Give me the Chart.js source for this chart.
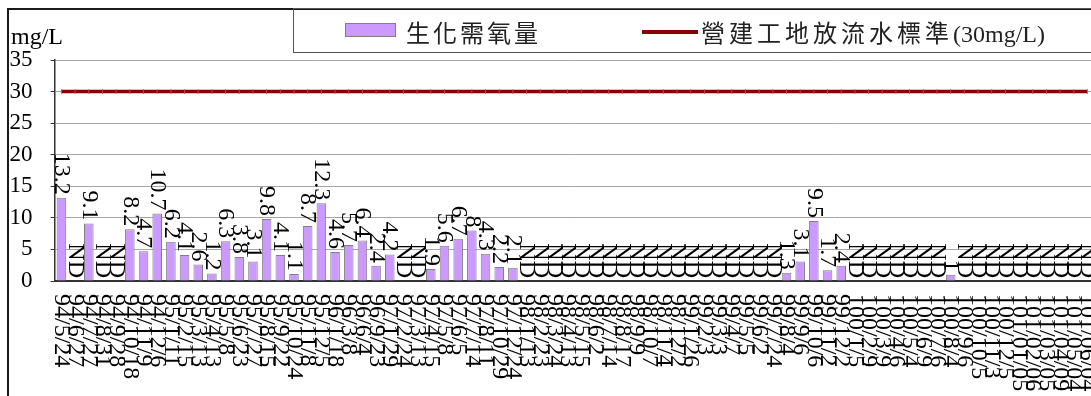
<!DOCTYPE html>
<html>
<head>
<meta charset="utf-8">
<script src="https://cdn.jsdelivr.net/npm/chart.js@4/dist/chart.umd.min.js"></script>
<style>
  body { margin: 0; overflow: hidden; background: #fff; }
  #wrap { position: relative; width: 1100px; height: 396px; overflow: hidden; }
  #theChart { position: absolute; left: 0; top: 0; }
  .frame { position: absolute; left: 7px; top: 8px; width: 1100px; height: 410px; border: 2px solid #1a1a1a; box-sizing: border-box; }
  .legendBox { position: absolute; left: 293px; top: 8px; width: 820px; height: 45px; border: 1.5px solid #555; box-sizing: border-box; }
  .swatch { position: absolute; left: 345px; top: 23px; width: 51px; height: 14px; background: #CC99FF; border: 1.5px solid #808080; box-sizing: border-box; }
  .redLine { position: absolute; left: 642px; top: 30px; width: 56px; height: 4px; background: #8B0000; }
  .cjk { position: absolute; top: 17px; font-family: "Noto Sans CJK TC", sans-serif; font-size: 24px; color: #222; line-height: 30px; white-space: nowrap; }
  .serif { font-family: "Liberation Serif", serif; letter-spacing: 0; }
  .unit { position: absolute; left: 11px; top: 22px; font-family: "Liberation Serif", serif; font-size: 24px; line-height: 28px; color: #000; }
</style>
</head>
<body>
<div id="wrap">
  <canvas id="theChart" width="1100" height="396"></canvas>
  <div class="frame"></div>
  <div class="legendBox"></div>
  <div class="swatch"></div>
  <div class="cjk" style="left:406px; letter-spacing:3px;">生化需氧量</div>
  <div class="redLine"></div>
  <div class="cjk" style="left:701px; letter-spacing:4px;">營建工地放流水標準<span class="serif">(30mg/L)</span></div>
  <div class="unit">mg/L</div>
</div>
<script>
// sampling dates (ROC calendar)
const sampleDates = [
  "94/5/24","94/6/27","94/7/27","94/8/31","94/9/28","94/10/18","94/11/9","94/12/6",
  "95/1/11","95/2/15","95/3/13","95/4/13","95/5/8","95/6/23","95/7/27","95/8/15","95/9/22","95/10/24","95/11/8","95/12/5",
  "96/1/18","96/3/8","96/6/4","96/9/23",
  "97/1/29","97/2/24","97/3/13","97/4/15","97/5/8","97/6/5","97/7/14","97/8/11","97/10/29","97/12/24",
  "98/1/13","98/2/23","98/3/24","98/4/13","98/5/15","98/6/2","98/7/14","98/8/17","98/9/9","98/10/7","98/11/4","98/12/2",
  "99/1/26","99/2/3","99/3/3","99/4/7","99/5/5","99/6/2","99/7/24","99/8/4","99/9/6","99/10/6","99/11/2","99/12/2",
  "100/1/5","100/2/9","100/3/9","100/4/6","100/5/4","100/6/9","100/7/6","100/8/4","100/9/6","100/10/5","100/11/3","100/12/5",
  "101/01/05","101/02/06","101/03/05","101/04/09","101/05/04","101/06/04"
];

// BOD (mg/L), null = ND
const bodValues = [
  13.2, null, 9.1, null, null, 8.2, 4.7, 10.7, 6.2, 4.1,
  2.6, 1.2, 6.3, 3.8, 3.1, 9.8, 4.1, 1.1, 8.7, 12.3,
  4.6, 5.7, 6.4, 2.4, 4.2, null, null, 1.9, 5.6, 6.7,
  8.0, 4.3, 2.2, 2.1, null, null, null, null, null, null,
  null, null, null, null, null, null, null, null, null, null,
  null, null, null, 1.3, 3.1, 9.5, 1.7, 2.4, null, null,
  null, null, null, null, null, 1, null, null, null, null,
  null, null, null, null, null, null
];

const standardLimit = 30;
const standardValues = sampleDates.map(function(){ return standardLimit; });

const yTicks = [0, 5, 10, 15, 20, 25, 30, 35];

var serif = "'Liberation Serif', 'Times New Roman', serif";

// rotated labels on the bars and under the axis
var rotatedText = {
  id: 'rotatedText',
  afterDatasetsDraw: function(chart) {
    var ctx = chart.ctx;
    var xs = chart.scales.x, ys = chart.scales.y;
    ctx.save();
    ctx.fillStyle = '#000';
    ctx.font = '24px ' + serif;
    ctx.textBaseline = 'middle';
    for (var i = 0; i < sampleDates.length; i++) {
      var v = bodValues[i];
      var x = xs.getPixelForValue(i);
      var top = ys.getPixelForValue(v == null ? 0 : v);
      ctx.save();
      ctx.translate(x, top - 3);
      ctx.rotate(Math.PI / 2);
      ctx.textAlign = 'right';
      ctx.fillText(v == null ? 'ND' : String(v), 0, 0);
      ctx.restore();

      ctx.save();
      ctx.translate(x, ys.bottom + 13);
      ctx.rotate(Math.PI / 2);
      ctx.textAlign = 'left';
      ctx.fillText(sampleDates[i], 0, 0);
      ctx.restore();
    }
    ctx.restore();
  }
};

var ctx = document.getElementById("theChart").getContext('2d');

var bodChart = new Chart(ctx, {
  type: 'bar',
  data: {
    labels: sampleDates,
    datasets: [{
      type: 'line',
      label: '營建工地放流水標準(30mg/L)',
      data: standardValues,
      borderColor: '#8B0000',
      borderWidth: 3.5,
      pointStyle: 'line',
      rotation: 90,
      pointRadius: 2.5,
      pointBorderWidth: 1,
      pointBorderColor: 'rgba(190,90,90,0.8)',
      order: 0
    }, {
      label: '生化需氧量',
      data: bodValues,
      backgroundColor: '#CC99FF',
      borderColor: '#808080',
      borderWidth: 1,
      categoryPercentage: 0.7,
      barPercentage: 1,
      order: 1
    }]
  },
  options: {
    responsive: false,
    animation: false,
    devicePixelRatio: 1,
    layout: { padding: { left: 0, right: 5.7, top: 60, bottom: 115 } },
    plugins: {
      legend: { display: false },
      tooltip: { enabled: false }
    },
    scales: {
      x: {
        grid: { display: false, drawTicks: false },
        border: { color: '#333', width: 2 },
        ticks: { display: false },
        afterFit: function(s) { s.height = 0; }
      },
      y: {
        min: 0,
        max: 35,
        afterBuildTicks: function(s) { s.ticks = yTicks.map(function(v){ return { value: v }; }); },
        ticks: {
          color: '#000',
          padding: 18,
          font: { family: serif, size: 23 }
        },
        grid: { color: '#a6a6a6', lineWidth: 1, tickLength: 4, tickColor: '#333' },
        border: { color: '#333', width: 1.5 },
        afterFit: function(s) { s.width = 54.6; }
      }
    }
  },
  plugins: [rotatedText]
});
</script>
</body>
</html>
